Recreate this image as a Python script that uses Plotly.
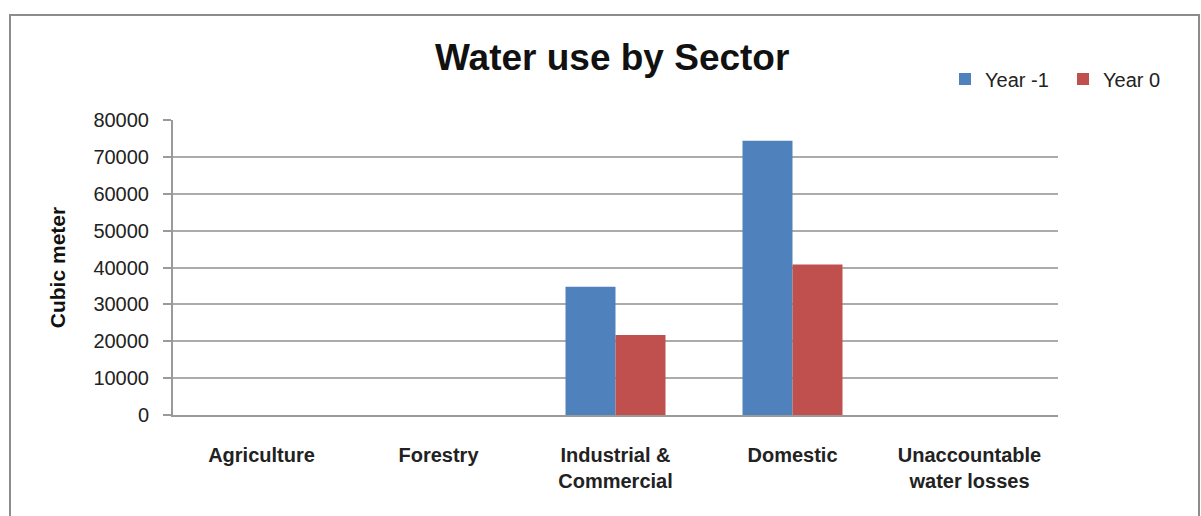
import plotly.graph_objects as go

categories = ["Agriculture", "Forestry", "Industrial &<br>Commercial", "Domestic", "Unaccountable<br>water losses"]
year_minus_1 = [0, 0, 34800, 74400, 0]
year_0 = [0, 0, 21700, 40800, 0]
y_ticks = [0, 10000, 20000, 30000, 40000, 50000, 60000, 70000, 80000]

W, H = 1201, 516
L, R, T, B = 173, 1058, 120, 415
pw, ph = R - L, B - T

def px_x(x):
    return (x - L) / pw

def px_y(y):
    return (B - y) / ph

fig = go.Figure()
fig.add_trace(go.Bar(name="Year -1", x=categories, y=year_minus_1, marker=dict(color="#4F81BD", line=dict(width=0))))
fig.add_trace(go.Bar(name="Year 0", x=categories, y=year_0, marker=dict(color="#C0504D", line=dict(width=0))))

fig.update_layout(
    width=W, height=H,
    margin=dict(l=L, r=W - R, t=T, b=H - B, pad=0),
    paper_bgcolor="white", plot_bgcolor="white",
    barmode="group", bargap=0.435, bargroupgap=0,
    showlegend=True,
    legend=dict(orientation="h", x=px_x(945), xanchor="left", y=px_y(79), yanchor="middle",
                font=dict(family="Liberation Sans, Arial", size=20, color="#222"),
                entrywidth=73, itemwidth=30, bgcolor="rgba(0,0,0,0)"),
    font=dict(family="Liberation Sans, Arial", color="#222"),
)

fig.update_xaxes(
    showline=True, linecolor="#9a9a9a", linewidth=2,
    ticks="", showgrid=False,
    tickfont=dict(family="Liberation Sans, Arial", size=20, color="#222", weight="bold"),
    ticklabelstandoff=21,
)
fig.update_yaxes(
    range=[0, 80000], tickvals=y_ticks, ticktext=[str(v) for v in y_ticks],
    showline=True, linecolor="#9a9a9a", linewidth=2,
    ticks="outside", ticklen=8, tickcolor="#9a9a9a", tickwidth=2,
    showgrid=True, gridcolor="#ababab", gridwidth=2,
    zeroline=False,
    tickfont=dict(family="Liberation Sans, Arial", size=20, color="#222"),
    ticklabelstandoff=10,
    title=dict(text="Cubic meter", font=dict(family="Liberation Sans, Arial", size=21, color="#111", weight="bold"), standoff=22),
)

fig.add_annotation(
    text="<b>Water use by Sector</b>", xref="paper", yref="paper",
    x=px_x(612), y=px_y(57), xanchor="center", yanchor="middle",
    showarrow=False, font=dict(family="Liberation Sans, Arial", size=37, color="#111"),
)

fig.add_shape(
    type="rect", xref="paper", yref="paper",
    x0=px_x(10), x1=px_x(1199), y0=px_y(525), y1=px_y(15),
    line=dict(color="#8c8c8c", width=2), fillcolor="rgba(0,0,0,0)", layer="below",
)

fig.write_html("out.html")
